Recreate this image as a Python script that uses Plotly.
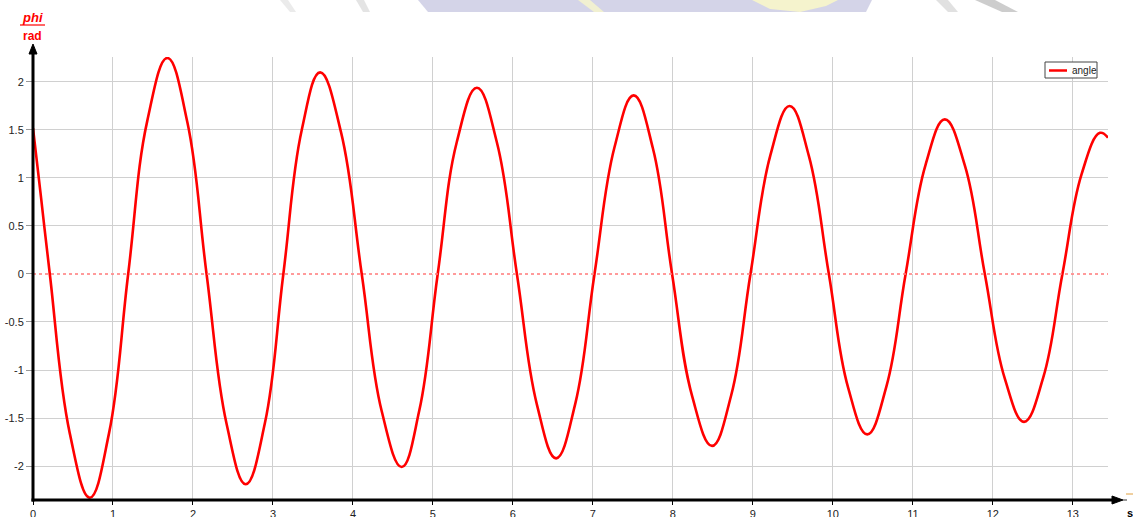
import plotly.graph_objects as go

# ---- data: pendulum angle (rad) over time (s) ----
t_s = [0.00, 0.10, 0.21, 0.46, 0.71, 0.95, 1.19, 1.43, 1.68, 1.93, 2.17, 2.42, 2.66,
       2.90, 3.13, 3.36, 3.59, 3.85, 4.11, 4.36, 4.61, 4.83, 5.06, 5.30, 5.55, 5.80,
       6.05, 6.30, 6.54, 6.78, 7.02, 7.27, 7.51, 7.75, 7.99, 8.24, 8.49, 8.73, 8.97,
       9.22, 9.46, 9.70, 9.95, 10.19, 10.43, 10.67, 10.91, 11.16, 11.40, 11.65, 11.90,
       12.15, 12.39, 12.63, 12.87, 13.11, 13.34, 13.44]
phi_rad = [1.52, 0.80, 0.00, -1.66, -2.33, -1.66, 0.00, 1.60, 2.25, 1.58, 0.00, -1.56, -2.19,
           -1.55, 0.00, 1.50, 2.10, 1.48, 0.00, -1.43, -2.01, -1.42, 0.00, 1.38, 1.94, 1.37,
           0.00, -1.36, -1.92, -1.35, 0.00, 1.32, 1.86, 1.31, 0.00, -1.27, -1.79, -1.26, 0.00,
           1.24, 1.75, 1.23, 0.00, -1.18, -1.67, -1.17, 0.00, 1.14, 1.61, 1.13, 0.00,
           -1.09, -1.54, -1.08, 0.00, 1.04, 1.47, 1.42]
series_name = "angle"

x_ticks = list(range(0, 14))
x_tick_labels = [str(v) for v in x_ticks]
y_ticks = [-2, -1.5, -1, -0.5, 0, 0.5, 1, 1.5, 2]
y_tick_labels = ["-2", "-1.5", "-1", "-0.5", "0", "0.5", "1", "1.5", "2"]

x_range = [0, 13.44]
y_range = [-2.354, 2.26]

# ---- page geometry (pixels) ----
W, H = 1133, 517
ML, MR, MT, MB = 33, 25, 57, 17
PW, PH = W - ML - MR, H - MT - MB


def px(x):
    return (x - ML) / PW


def py(y):
    return (H - MB - y) / PH


fig = go.Figure()
fig.add_trace(go.Scatter(
    x=t_s, y=phi_rad, mode="lines", name=series_name,
    line=dict(color="#ff0000", width=2.6, shape="spline", smoothing=1.2),
    showlegend=False, hoverinfo="x+y",
))

shapes = []

# faded emblem strip along the top edge
strip_top, strip_bot = py(0), py(12)
shapes += [
    dict(type="path", xref="paper", yref="paper", layer="below", opacity=0.85,
         path=f"M {px(418)} {strip_top} L {px(872)} {strip_top} L {px(866)} {strip_bot} L {px(428)} {strip_bot} Z",
         fillcolor="#cdcde4", line=dict(width=0)),
    dict(type="path", xref="paper", yref="paper", layer="below", opacity=0.85,
         path=f"M {px(578)} {strip_top} L {px(590)} {strip_top} L {px(604)} {strip_bot} L {px(594)} {strip_bot} Z",
         fillcolor="#f6f4cc", line=dict(width=0)),
    dict(type="path", xref="paper", yref="paper", layer="below", opacity=0.85,
         path=f"M {px(752)} {strip_top} L {px(838)} {strip_top} L {px(826)} {py(6)} L {px(800)} {strip_bot} L {px(770)} {py(9)} Z",
         fillcolor="#faf8c8", line=dict(width=0)),
    dict(type="path", xref="paper", yref="paper", layer="below", opacity=0.7,
         path=f"M {px(280)} {strip_top} L {px(288)} {strip_top} L {px(296)} {strip_bot} L {px(290)} {strip_bot} Z",
         fillcolor="#e2e2e2", line=dict(width=0)),
    dict(type="path", xref="paper", yref="paper", layer="below", opacity=0.7,
         path=f"M {px(356)} {strip_top} L {px(364)} {strip_top} L {px(370)} {strip_bot} L {px(363)} {strip_bot} Z",
         fillcolor="#d8d8d8", line=dict(width=0)),
    dict(type="path", xref="paper", yref="paper", layer="below", opacity=0.7,
         path=f"M {px(936)} {strip_top} L {px(948)} {strip_top} L {px(958)} {strip_bot} L {px(948)} {strip_bot} Z",
         fillcolor="#d4d4d4", line=dict(width=0)),
    dict(type="path", xref="paper", yref="paper", layer="below", opacity=0.7,
         path=f"M {px(975)} {strip_top} L {px(995)} {strip_top} L {px(1018)} {strip_bot} L {px(1002)} {strip_bot} Z",
         fillcolor="#b8b8b8", line=dict(width=0)),
]

# dotted zero reference
shapes.append(dict(type="line", xref="paper", yref="y", x0=0, x1=1, y0=0, y1=0,
                   line=dict(color="#ff7a7a", width=1.5, dash="dot")))

# axis lines with arrow heads
ax_y = H - MB
shapes += [
    dict(type="line", xref="paper", yref="paper", x0=px(ML), x1=px(ML), y0=py(ax_y + 1.5), y1=py(52),
         line=dict(color="#000000", width=3)),
    dict(type="path", xref="paper", yref="paper",
         path=f"M {px(ML - 4)} {py(54)} L {px(ML)} {py(44)} L {px(ML + 4)} {py(54)} Z",
         fillcolor="#000000", line=dict(color="#000000", width=1)),
    dict(type="line", xref="paper", yref="paper", x0=px(ML - 1.5), x1=px(1114), y0=py(ax_y), y1=py(ax_y),
         line=dict(color="#000000", width=3)),
    dict(type="path", xref="paper", yref="paper",
         path=f"M {px(1112)} {py(ax_y - 4)} L {px(1123)} {py(ax_y)} L {px(1112)} {py(ax_y + 4)} Z",
         fillcolor="#000000", line=dict(color="#000000", width=1)),
    dict(type="line", xref="paper", yref="paper", x0=px(1123), x1=px(1127), y0=py(ax_y), y1=py(ax_y),
         line=dict(color="#333333", width=1)),
    # fraction bar of the y unit label
    dict(type="line", xref="paper", yref="paper", x0=px(20), x1=px(45), y0=py(25), y1=py(25),
         line=dict(color="#ff0000", width=1.2)),
    # fraction bar of the x unit label
    dict(type="line", xref="paper", yref="paper", x0=px(1126), x1=px(1133), y0=py(494), y1=py(494),
         line=dict(color="#e0a040", width=1)),
]

# legend box
shapes += [
    dict(type="rect", xref="paper", yref="paper", x0=px(1045), x1=px(1097), y0=py(62), y1=py(78),
         fillcolor="#ffffff", line=dict(color="#444444", width=1)),
    dict(type="line", xref="paper", yref="paper", x0=px(1049), x1=px(1067), y0=py(70.5), y1=py(70.5),
         line=dict(color="#ff0000", width=2.5)),
]

annotations = [
    dict(text="<b><i>phi</i></b>", xref="paper", yref="paper", x=px(32), y=py(18),
         xanchor="center", yanchor="middle", showarrow=False,
         font=dict(family="Liberation Sans, Arial", size=13, color="#ff0000")),
    dict(text="<b>rad</b>", xref="paper", yref="paper", x=px(32), y=py(36),
         xanchor="center", yanchor="middle", showarrow=False,
         font=dict(family="Liberation Sans, Arial", size=12, color="#ff0000")),
    dict(text="<b>s</b>", xref="paper", yref="paper", x=px(1130), y=py(513),
         xanchor="center", yanchor="middle", showarrow=False,
         font=dict(family="Liberation Sans, Arial", size=11, color="#000000")),
    dict(text=series_name, xref="paper", yref="paper", x=px(1070), y=py(70.5),
         xanchor="left", yanchor="middle", showarrow=False,
         font=dict(family="Liberation Sans, Arial", size=10, color="#222222")),
]

fig.update_layout(
    width=W, height=H, autosize=False,
    margin=dict(l=ML, r=MR, t=MT, b=MB, pad=0),
    paper_bgcolor="#ffffff", plot_bgcolor="#ffffff",
    shapes=shapes, annotations=annotations,
    showlegend=False,
    font=dict(family="Liberation Sans, Arial", size=11, color="#222222"),
)
fig.update_xaxes(
    range=x_range, tickvals=x_ticks, ticktext=x_tick_labels, automargin=False,
    showgrid=True, gridcolor="#d0d0d0", gridwidth=1,
    zeroline=False, showline=False,
    ticks="outside", ticklen=4, tickcolor="#000000", tickwidth=1,
    tickfont=dict(size=11, color="#222222"),
)
fig.update_yaxes(
    range=y_range, tickvals=y_ticks, ticktext=y_tick_labels, automargin=False,
    showgrid=True, gridcolor="#d0d0d0", gridwidth=1,
    zeroline=True, zerolinecolor="#ffffff", zerolinewidth=1,
    showline=False,
    ticks="outside", ticklen=6, tickcolor="#999999", tickwidth=1,
    tickfont=dict(size=11, color="#222222"),
)

fig.write_html("out.html")
